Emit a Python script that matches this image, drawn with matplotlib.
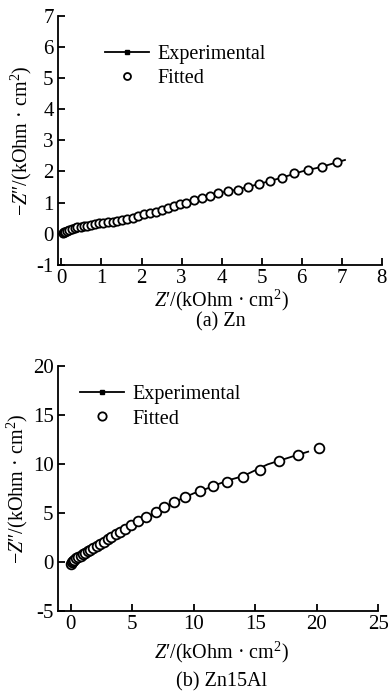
import matplotlib
matplotlib.use("Agg")
import matplotlib.pyplot as plt
from matplotlib.lines import Line2D

plt.rcParams['font.family'] = 'Liberation Serif'
plt.rcParams['mathtext.fontset'] = 'custom'
plt.rcParams['mathtext.rm'] = 'Liberation Serif'
plt.rcParams['mathtext.it'] = 'Liberation Serif:italic'
plt.rcParams['axes.unicode_minus'] = False

# (a) Zn
zn_exp_x = [0.02, 0.1, 0.2, 0.4, 0.7, 1.0, 1.3, 1.6, 2.0, 2.4, 2.8, 3.2, 3.6,
            4.0, 4.5, 5.0, 5.5, 6.0, 6.5, 7.08]
zn_exp_y = [0.0, 0.07, 0.13, 0.2, 0.27, 0.34, 0.39, 0.47, 0.6, 0.74, 0.88,
            1.03, 1.18, 1.32, 1.45, 1.62, 1.8, 2.0, 2.15, 2.37]
zn_fit_x = [0.03, 0.06, 0.1, 0.15, 0.2, 0.26, 0.33, 0.4, 0.48, 0.56, 0.65,
            0.74, 0.84, 0.94, 1.05, 1.16, 1.28, 1.4, 1.52, 1.65, 1.78, 1.92,
            2.06, 2.2, 2.35, 2.5, 2.65, 2.8, 2.96, 3.12, 3.3, 3.5, 3.7, 3.92,
            4.15, 4.4, 4.66, 4.93, 5.2, 5.5, 5.82, 6.15, 6.5, 6.87]
zn_fit_y = [0.02, 0.04, 0.07, 0.10, 0.13, 0.15, 0.17, 0.20, 0.22, 0.24, 0.26,
            0.28, 0.31, 0.33, 0.35, 0.37, 0.39, 0.42, 0.45, 0.48, 0.52, 0.57,
            0.62, 0.66, 0.71, 0.76, 0.82, 0.88, 0.94, 1.00, 1.07, 1.15, 1.22,
            1.30, 1.36, 1.42, 1.50, 1.59, 1.68, 1.80, 1.94, 2.05, 2.15, 2.29]

# (b) Zn15Al
al_exp_x = [0.05, 0.5, 1, 2, 3, 4, 5, 6, 7, 8, 9, 10, 11, 12, 13, 14, 15, 16,
            17, 18, 19.3]
al_exp_y = [-0.2, 0.4, 0.8, 1.55, 2.3, 3.1, 3.85, 4.5, 5.05, 5.8, 6.45, 7.0,
            7.45, 7.95, 8.4, 8.75, 9.35, 9.95, 10.35, 10.75, 11.25]
al_fit_x = [0.05, 0.1, 0.2, 0.3, 0.45, 0.6, 0.8, 1.0, 1.2, 1.4, 1.6, 1.85,
            2.1, 2.4, 2.7, 3.0, 3.3, 3.65, 4.0, 4.4, 4.9, 5.5, 6.1, 6.9, 7.6,
            8.4, 9.3, 10.5, 11.6, 12.7, 14.0, 15.4, 16.9, 18.5, 20.2]
al_fit_y = [-0.2, -0.05, 0.1, 0.2, 0.35, 0.45, 0.6, 0.8, 0.95, 1.1, 1.25, 1.4,
            1.6, 1.8, 2.05, 2.3, 2.55, 2.85, 3.1, 3.4, 3.8, 4.2, 4.6, 5.1, 5.6,
            6.1, 6.6, 7.2, 7.7, 8.2, 8.7, 9.4, 10.3, 10.9, 11.6]

fs = 14.5
fig = plt.figure(figsize=(3.88, 6.95), dpi=100)
ax1 = fig.add_axes([0.149, 0.619, 0.835, 0.358])
ax2 = fig.add_axes([0.149, 0.121, 0.826, 0.3525])

ylab = "\u2212$\\mathit{Z}$\u2033/(kOhm \u00b7 cm$^2$)"
xlab = "$\\mathit{Z}$\u2032/(kOhm \u00b7 cm$^2$)"

panels = [
    (ax1, zn_exp_x, zn_exp_y, zn_fit_x, zn_fit_y, (-0.09, 8), (-1, 7),
     range(0, 9), range(-1, 8), 6, (0.115, 0.925)),
    (ax2, al_exp_x, al_exp_y, al_fit_x, al_fit_y, (-1.05, 25), (-5, 20),
     range(0, 26, 5), range(-5, 21, 5), 7, (0.037, 0.962)),
]
for ax, ex, ey, fx, fy, xl, yl, xt, yt, ms, anchor in panels:
    ax.plot(ex, ey, color='black', lw=1.3)
    ax.plot(fx, fy, 'o', mfc='white', mec='black', mew=1.3, ms=ms)
    ax.set_xlim(*xl)
    ax.set_ylim(*yl)
    ax.set_xticks(list(xt))
    ax.set_yticks(list(yt))
    ax.spines['top'].set_visible(False)
    ax.spines['right'].set_visible(False)
    ax.spines['left'].set_linewidth(1.3)
    ax.spines['bottom'].set_linewidth(1.3)
    ax.tick_params(direction='in', length=5, width=1.3, labelsize=15, pad=3)
    ax.set_ylabel(ylab, fontsize=fs, labelpad=2)
    h_exp = Line2D([], [], color='black', lw=1.3, marker='s', ms=3)
    h_fit = Line2D([], [], ls='none', marker='o', mfc='white', mec='black', mew=1.3, ms=ms - 1)
    ax.legend([h_exp, h_fit], ['Experimental', 'Fitted'], loc='upper left',
              bbox_to_anchor=anchor, frameon=False, fontsize=fs,
              handlelength=2.2, handletextpad=0.4, labelspacing=0.25,
              borderpad=0)

fig.text(0.57, 1 - 300 / 695, xlab, ha='center', va='center', fontsize=fs)
fig.text(0.57, 1 - 322 / 695, '(a) Zn', ha='center', va='center', fontsize=fs)
fig.text(0.57, 1 - 652 / 695, xlab, ha='center', va='center', fontsize=fs)
fig.text(0.57, 1 - 682 / 695, '(b) Zn15Al', ha='center', va='center', fontsize=fs)

fig.savefig('out.png', dpi=100)
